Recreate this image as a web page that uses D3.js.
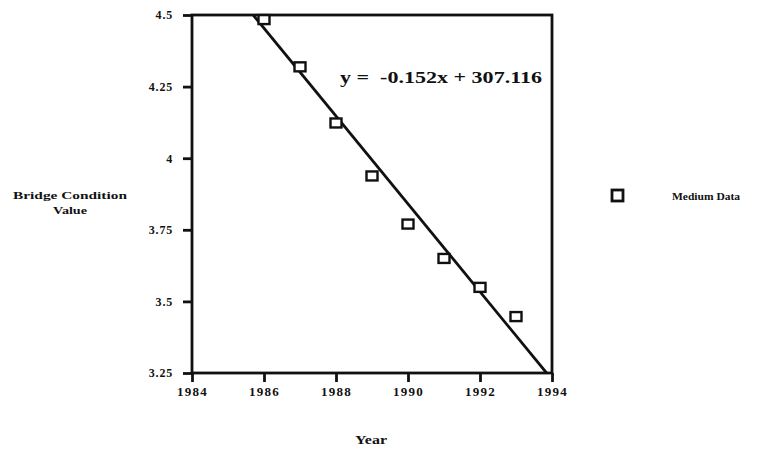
<!DOCTYPE html>
<html>
<head>
<meta charset="utf-8">
<script src="https://cdn.jsdelivr.net/npm/d3@7"></script>
<style>
  html, body { margin: 0; padding: 0; background: #fff; }
  svg { display: block; }
  text { font-family: "Liberation Serif", "DejaVu Serif", serif; font-weight: bold; fill: #111; }
</style>
</head>
<body>
<svg id="chart" width="768" height="453"></svg>
<script>
// ---- data ----
const years = [1986, 1987, 1988, 1989, 1990, 1991, 1992, 1993];
const mediumData = [4.484, 4.319, 4.123, 3.938, 3.77, 3.65, 3.549, 3.447];
const fitYears = [1985.7, 1993.85];
const fitValues = [4.5, 3.25];
const xTicks = [1984, 1986, 1988, 1990, 1992, 1994];
const yTicks = [3.25, 3.5, 3.75, 4, 4.25, 4.5];
const yTickLabels = ["3.25", "3.5", "3.75", "4", "4.25", "4.5"];
const equationText = "y =  -0.152x + 307.116";
const seriesName = "Medium Data";
const xTitle = "Year";
const yTitle = ["Bridge Condition", "Value"];

const svg = d3.select("#chart");
const mLeft = 192, mRight = 552, mTop = 15, mBottom = 373;

const x = d3.scaleLinear().domain([1984, 1994]).range([mLeft, mRight]);
const y = d3.scaleLinear().domain([3.25, 4.5]).range([mBottom, mTop]);

const ink = "#111";

// axes
const yAxis = d3.axisLeft(y).tickValues(yTicks).tickSize(9).tickPadding(10)
  .tickFormat((d, i) => yTickLabels[i]);
const xAxis = d3.axisBottom(x).tickValues(xTicks).tickSize(9).tickPadding(5)
  .tickFormat(d3.format("d"));

const gy = svg.append("g").attr("transform", `translate(${mLeft},0)`).call(yAxis);
const gx = svg.append("g").attr("transform", `translate(0,${mBottom})`).call(xAxis);
[gx, gy].forEach(g => {
  g.select(".domain").remove();
  g.selectAll(".tick line").attr("stroke", ink).attr("stroke-width", 2.8);
  g.selectAll(".tick text").attr("fill", ink)
    .style("font-family", "'Liberation Serif', serif").style("font-weight", "bold");
});
gy.selectAll(".tick text").attr("font-size", 12).attr("letter-spacing", 0.8);
gx.selectAll(".tick text").attr("font-size", 13).attr("letter-spacing", 1.2);

// frame
svg.append("rect")
  .attr("x", mLeft).attr("y", mTop)
  .attr("width", mRight - mLeft).attr("height", mBottom - mTop)
  .attr("fill", "none").attr("stroke", ink).attr("stroke-width", 2.8);

// clip for fit line
svg.append("clipPath").attr("id", "plotclip").append("rect")
  .attr("x", mLeft).attr("y", mTop).attr("width", mRight - mLeft).attr("height", mBottom - mTop);

// fit line
const fitPts = fitYears.map((d, i) => [d, fitValues[i]]);
svg.append("path")
  .datum(fitPts)
  .attr("d", d3.line().x(d => x(d[0])).y(d => y(d[1])))
  .attr("fill", "none").attr("stroke", ink).attr("stroke-width", 2.8)
  .attr("clip-path", "url(#plotclip)");

// points (open squares)
const pts = years.map((d, i) => [d, mediumData[i]]);
svg.append("g").selectAll("rect").data(pts).enter().append("rect")
  .attr("x", d => x(d[0]) - 5.5)
  .attr("y", d => y(d[1]) - 4.5)
  .attr("width", 11).attr("height", 9)
  .attr("fill", "#fff").attr("stroke", ink).attr("stroke-width", 2.4);

// equation
svg.append("text")
  .attr("x", 340).attr("y", 83)
  .attr("font-size", 17)
  .attr("textLength", 202).attr("lengthAdjust", "spacingAndGlyphs")
  .style("white-space", "pre")
  .text(equationText);

// y title
svg.append("text").attr("x", 70).attr("y", 199).attr("text-anchor", "middle")
  .attr("font-size", 11).attr("textLength", 114).attr("lengthAdjust", "spacingAndGlyphs")
  .text(yTitle[0]);
svg.append("text").attr("x", 70).attr("y", 214).attr("text-anchor", "middle")
  .attr("font-size", 11).attr("textLength", 34).attr("lengthAdjust", "spacingAndGlyphs")
  .text(yTitle[1]);

// x title
svg.append("text").attr("x", 371).attr("y", 444).attr("text-anchor", "middle")
  .attr("font-size", 12).attr("textLength", 32).attr("lengthAdjust", "spacingAndGlyphs")
  .text(xTitle);

// legend
svg.append("rect").attr("x", 612).attr("y", 190).attr("width", 11).attr("height", 11)
  .attr("fill", "#fff").attr("stroke", ink).attr("stroke-width", 2.8);
svg.append("text").attr("x", 672).attr("y", 200)
  .attr("font-size", 11).attr("textLength", 68).attr("lengthAdjust", "spacingAndGlyphs")
  .text(seriesName);
</script>
</body>
</html>
